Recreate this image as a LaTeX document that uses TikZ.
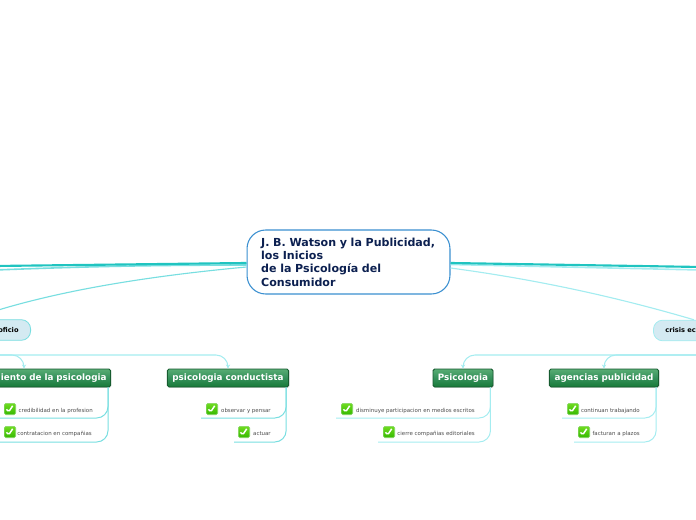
\documentclass[tikz,border=0pt]{standalone}
\usepackage{fontspec}
\setmainfont{DejaVu Sans}
\usetikzlibrary{calc,arrows.meta,shadows}
\definecolor{rootline}{HTML}{3A8FD0}
\definecolor{rootink}{HTML}{0C2050}
\definecolor{teal1}{HTML}{20C4C0}
\definecolor{teal2}{HTML}{78DEE0}
\definecolor{teal3}{HTML}{A4ECF0}
\definecolor{topicfill}{HTML}{D4EAF2}
\definecolor{boxline}{HTML}{175C30}
\definecolor{boxtop}{HTML}{58AC74}
\definecolor{boxmid}{HTML}{34905A}
\definecolor{boxbot}{HTML}{187A38}
\definecolor{chktop}{HTML}{70DC20}
\definecolor{chkbot}{HTML}{34B800}
\tikzset{
  root/.style    = {draw=rootline, fill=white, rounded corners=14pt, line width=0.8pt,
                    minimum width=152.2pt, minimum height=48pt, inner sep=0pt,
                    text=rootink, font=\fontsize{8.3}{10}\selectfont\bfseries,
                    align=left, text width=131pt},
  topic/.style   = {fill=topicfill, rounded corners=7pt, line width=0.6pt, minimum height=15.5pt,
                    minimum width=70pt, inner ysep=0pt, inner xsep=9pt,
                    font=\fontsize{5}{6}\selectfont\bfseries},
  greenbox/.style = {draw=boxline, line width=0.7pt, rounded corners=1.2pt,
                    top color=boxtop, bottom color=boxbot, middle color=boxmid,
                    drop shadow={opacity=0.3, shadow xshift=0.5pt, shadow yshift=-0.7pt},
                    minimum height=13.5pt, inner ysep=0pt, inner xsep=3pt, text=white,
                    font=\fontsize{6.6}{8}\selectfont\bfseries},
  leaf/.style    = {anchor=east, inner sep=0pt, text=black!70,
                    font=\fontsize{4.1}{5}\selectfont},
  chk/.style     = {draw=chkbot!60!white, top color=chktop, bottom color=chkbot, rounded corners=1.2pt,
                    minimum size=8.6pt, inner sep=0pt,
                    path picture={\draw[white, line width=1.1pt]
                      ($(path picture bounding box.center)+(-2.6pt,-0.2pt)$) --
                      ++(1.6pt,-2pt) -- ++(3pt,4.6pt);}},
  lnk/.style     = {-{Stealth[length=3pt,width=3.2pt]}, teal3, line width=0.8pt, rounded corners=9pt},
  under/.style   = {teal2, line width=0.75pt, rounded corners=8.5pt},
}
\begin{document}
\begin{tikzpicture}[x=0.75pt, y=-0.75pt]
  \path[use as bounding box, clip] (0,0) rectangle (696,520);

  \node[root] (center) at (348.5,262) {J. B. Watson y la Publicidad,\\los Inicios\\de la Psicología del\\Consumidor};

  \coordinate (lt1) at (-5,266);
  \coordinate (lt2) at (-5,270);
  \coordinate (lt3) at (-5,311);
  \coordinate (rt1) at (701,267);
  \coordinate (rt2) at (701,270);
  \node[topic, draw=teal2, anchor=east, text width=52pt, align=right] (oficio) at (31,330) {oficio};
  \node[topic, draw=teal3, anchor=west, text width=52pt, align=left] (crisis) at (653,330.5) {crisis ec};
  \draw[teal2, line width=1.2pt] ($(center.west)+(0,3)$) to[bend right=1] (lt2);
  \draw[teal1, line width=1.6pt] ($(center.west)+(0,1)$) to (lt1);
  \draw[teal2, line width=0.85pt] ($(center.west)+(0,5)$) .. controls (160,275) and (70,288) .. (lt3);
  \draw[teal3, line width=1.2pt] ($(center.east)+(0,2.5)$) to (rt2);
  \draw[teal1, line width=1.6pt] ($(center.east)+(0,1)$) to (rt1);
  \draw[teal3, line width=0.85pt] ($(center.east)+(0,6)$) .. controls (540,280) and (620,298) .. (crisis.120);

  \node[greenbox, anchor=east, text width=120pt, align=right] (crec) at (111,378) {iento de la psicologia};
  \node[greenbox, minimum width=91pt] (conduct) at (228,378) {psicologia conductista};
  \node[greenbox, minimum width=45pt] (psico) at (463,378) {Psicologia};
  \node[greenbox, minimum width=82pt] (agen) at (604,378) {agencias publicidad};

  \coordinate (ofb) at (-5,355);
  \coordinate (crb) at (701,355);
  \draw[lnk] (ofb) -| (crec.north -| 24,0);
  \draw[lnk] (ofb) -| (conduct.north);
  \draw[lnk] (crb) -| (psico.north);
  \draw[lnk] (crb) -| (agen.north);

  % hojas
  \node[chk] (c1) at (10,409) {};
  \node[chk] (c2) at (10,432) {};
  \node[chk] (c3) at (212,409) {};
  \node[chk] (c4) at (244,432) {};
  \node[chk] (c5) at (347,409) {};
  \node[chk] (c6) at (389,432) {};
  \node[chk] (c7) at (573,409) {};
  \node[chk] (c8) at (584,432) {};
  \node[leaf] (l1) at (93,410.6) {credibilidad en la profesion};
  \node[leaf] (l2) at (92,433.6) {contratacion en compañias};
  \node[leaf] (l3) at (271,410.6) {observar y pensar};
  \node[leaf] (l4) at (271,433.6) {actuar};
  \node[leaf] (l5) at (475,410.6) {disminuye participacion en medios escritos};
  \node[leaf] (l6) at (475,433.6) {cierre compañias editoriales};
  \node[leaf] (l7) at (640,410.6) {continuan trabajando};
  \node[leaf] (l8) at (640,433.6) {facturan a plazos};

  \coordinate (u1) at (-5,418);
  \coordinate (u2) at (-5,442);
  \coordinate (u3) at (201,418);
  \coordinate (u4) at (234,442);
  \coordinate (u5) at (336,418);
  \coordinate (u6) at (378,442);
  \coordinate (u7) at (562,418);
  \coordinate (u8) at (574,442);
  \draw[under] ($(crec.south east)+(-3,0)$) |- (u1);
  \draw[under] ($(crec.south east)+(-3,0)$) |- (u2);
  \draw[under] ($(conduct.south east)+(-3,0)$) |- (u3);
  \draw[under] ($(conduct.south east)+(-3,0)$) |- (u4);
  \draw[under, teal3] ($(psico.south east)+(-3,0)$) |- (u5);
  \draw[under, teal3] ($(psico.south east)+(-3,0)$) |- (u6);
  \draw[under, teal3] ($(agen.south east)+(-3,0)$) |- (u7);
  \draw[under, teal3] ($(agen.south east)+(-3,0)$) |- (u8);
\end{tikzpicture}
\end{document}
